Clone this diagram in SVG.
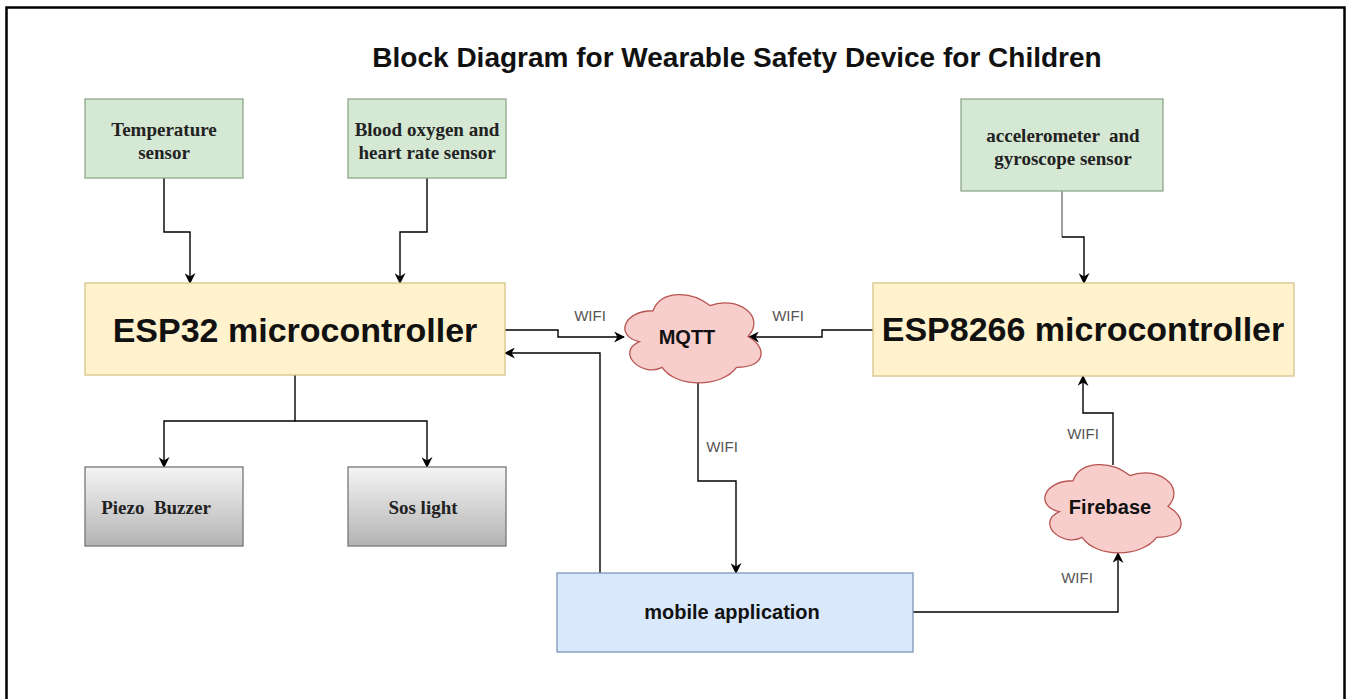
<svg xmlns="http://www.w3.org/2000/svg" width="1352" height="699" viewBox="0 0 1352 699">
<style>
.frame{fill:#fff;stroke:#000;stroke-width:2.5}
.green{fill:#d5e8d4;stroke:#8fa88a;stroke-width:1.3}
.yellow{fill:#fff2cc;stroke:#d6c38a;stroke-width:1.3}
.blue{fill:#dae8fc;stroke:#7d96b8;stroke-width:1.3}
.grey{fill:url(#gg);stroke:#777;stroke-width:1.3}
.cloud{fill:#f8cecc;stroke:#b85450;stroke-width:1.3}
.serif{font-family:"Liberation Serif","Times New Roman",serif;font-weight:bold;font-size:19px;fill:#222;text-anchor:middle}
.sans{font-family:"Liberation Sans",Arial,sans-serif;font-weight:bold;fill:#111;text-anchor:middle}
.lbl{font-family:"Liberation Sans",Arial,sans-serif;font-size:15px;fill:#555;text-anchor:middle}
.conn{fill:none;stroke:#000;stroke-width:1.4}
</style>
<defs>
<linearGradient id="gg" x1="0" y1="0" x2="0" y2="1">
<stop offset="0" stop-color="#f5f5f5"/>
<stop offset="1" stop-color="#b3b3b3"/>
</linearGradient>
<marker id="arr" viewBox="0 0 10 10" refX="9" refY="5" markerWidth="11" markerHeight="11" markerUnits="userSpaceOnUse" orient="auto">
<path d="M0,0 L10,5 L0,10 L3,5 Z" fill="#000"/>
</marker>
<path id="cloudShape" d="M653,310.75 C622.6,310.75 615,336.5 639.32,341.65 C615,352.98 642.36,377.7 662.12,367.4 C675.8,388 721.4,388 736.6,367.4 C767,367.4 767,346.8 748,336.5 C767,315.9 736.6,295.3 710,305.6 C691,290.15 660.6,290.15 653,310.75 Z"/>
</defs>
<rect class="frame" x="6.5" y="7.5" width="1338" height="720"/>
<text id="title" x="737" y="67" class="sans" font-size="28">Block Diagram for Wearable Safety Device for Children</text>

<g id="connectors">
<path class="conn" d="M164,178 V232 H190 V283" marker-end="url(#arr)"/>
<path class="conn" d="M427,178 V232 H400 V283" marker-end="url(#arr)"/>
<path class="conn" d="M1062,191 V237" style="stroke:#777"/>
<path class="conn" d="M1062,237 H1084 V283" marker-end="url(#arr)"/>
<path class="conn" d="M295,375 V421 H164 V467" marker-end="url(#arr)"/>
<path class="conn" d="M295,421 H427 V467" marker-end="url(#arr)"/>
<path class="conn" d="M505,330 H558 V337 H624" marker-end="url(#arr)"/>
<path class="conn" d="M873,330 H822 V337 H749" marker-end="url(#arr)"/>
<path class="conn" d="M698,383 V481 H736 V573" marker-end="url(#arr)"/>
<path class="conn" d="M600,573 V353 H505" marker-end="url(#arr)"/>
<path class="conn" d="M913,612 H1118 V553" marker-end="url(#arr)"/>
<path class="conn" d="M1113,465 V413 H1083 V376" marker-end="url(#arr)"/>
<text class="lbl" x="590" y="321">WIFI</text>
<text class="lbl" x="788" y="321">WIFI</text>
<text class="lbl" x="722" y="452">WIFI</text>
<text class="lbl" x="1083" y="439">WIFI</text>
<text class="lbl" x="1077" y="583">WIFI</text>
</g>

<g id="temp">
<rect class="green" x="85" y="99" width="158" height="79"/>
<text class="serif" x="164" y="136">Temperature</text>
<text class="serif" x="164" y="159">sensor</text>
</g>
<g id="blood">
<rect class="green" x="348" y="99" width="158" height="79"/>
<text class="serif" x="427" y="136">Blood oxygen and</text>
<text class="serif" x="427" y="159">heart rate sensor</text>
</g>
<g id="accel">
<rect class="green" x="961" y="99" width="202" height="92"/>
<text class="serif" x="1063" y="142" xml:space="preserve">accelerometer  and</text>
<text class="serif" x="1063" y="165">gyroscope sensor</text>
</g>
<g id="esp32">
<rect class="yellow" x="85" y="283" width="420" height="92"/>
<text class="sans" x="295" y="342" font-size="34">ESP32 microcontroller</text>
</g>
<g id="esp8266">
<rect class="yellow" x="873" y="283" width="421" height="93"/>
<text class="sans" x="1083" y="341" font-size="34">ESP8266 microcontroller</text>
</g>
<g id="piezo">
<rect class="grey" x="85" y="467" width="158" height="79"/>
<text class="serif" x="156" y="514" xml:space="preserve">Piezo  Buzzer</text>
</g>
<g id="sos">
<rect class="grey" x="348" y="467" width="158" height="79"/>
<text class="serif" x="423" y="514">Sos light</text>
</g>
<g id="mqtt">
<use href="#cloudShape" class="cloud"/>
<text class="sans" x="687" y="344" font-size="20">MQTT</text>
</g>
<g id="firebase">
<use href="#cloudShape" class="cloud" transform="translate(420,170)"/>
<text class="sans" x="1110" y="514" font-size="20">Firebase</text>
</g>
<g id="mobile">
<rect class="blue" x="557" y="573" width="356" height="79"/>
<text class="sans" x="732" y="619" font-size="20">mobile application</text>
</g>
</svg>
